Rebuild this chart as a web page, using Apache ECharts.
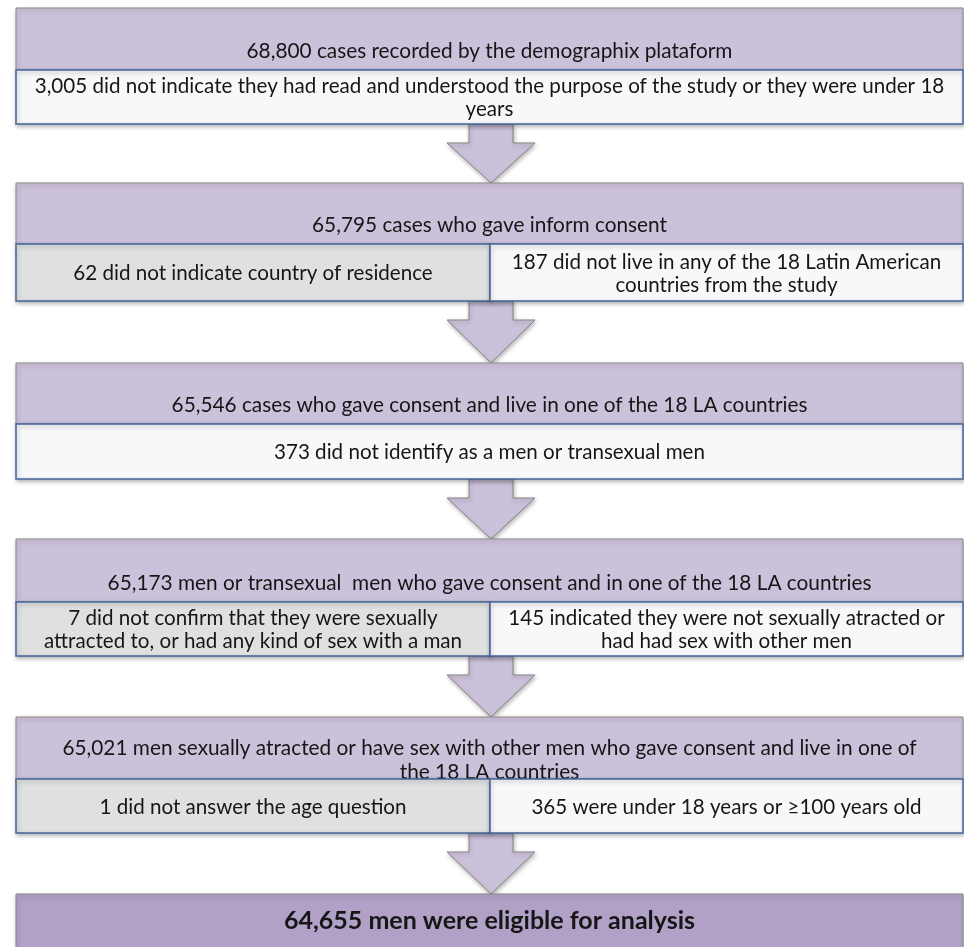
<!DOCTYPE html>
<html>
<head>
<meta charset="utf-8">
<script src="https://cdn.jsdelivr.net/npm/echarts@6/dist/echarts.min.js"></script>
<style>
html,body{margin:0;padding:0;background:#ffffff;}
#chart{width:964px;height:947px;}
</style>
</head>
<body>
<div id="chart"></div>
<script>
// ---- Data ----
const stageCounts = [68800, 65795, 65546, 65173, 65021, 64655];
const stageTexts = [
  'cases recorded by the demographix plataform',
  'cases who gave inform consent',
  'cases who gave consent and live in one of the 18 LA countries',
  'men or transexual  men who gave consent and in one of the 18 LA countries',
  'men sexually atracted or have sex with other men who gave consent and live in one of\nthe 18 LA countries',
  'men were eligible for analysis'
];
const exclusionCounts = [[3005], [62, 187], [373], [7, 145], [1, 365]];
const exclusionTexts = [
  ['did not indicate they had read and understood the purpose of the study or they were under 18\nyears'],
  ['did not indicate country of residence', 'did not live in any of the 18 Latin American\ncountries from the study'],
  ['did not identify as a men or transexual men'],
  ['did not confirm that they were sexually\nattracted to, or had any kind of sex with a man', 'indicated they were not sexually atracted or\nhad had sex with other men'],
  ['did not answer the age question', 'were under 18 years or \u2265100 years old']
];

// ---- Layout (chart units = pixels) ----
const W = 964, H = 947;
const boxLeft = 16, boxRight = 963, splitX = 490;
const rows = [
  {top: 8,   mid: 70,  bottom: 124},
  {top: 183, mid: 244, bottom: 301},
  {top: 363, mid: 424, bottom: 479},
  {top: 539, mid: 602, bottom: 656},
  {top: 717, mid: 779, bottom: 833},
  {top: 894, mid: 947, bottom: 947}
];
const arrowShaft = [469, 513], arrowHead = [447, 535], shaftLen = 19;

const fmt = n => n.toLocaleString('en-US');
const FONT = 'Lato, "Noto Sans", sans-serif';
const C = {
  header: '#ccc1da', final: '#b1a1c7', headerBorder: '#8a8a8a',
  grey: '#e0e0e0', white: '#f8f8fb', subBorder: '#41679a', text: '#161616',
  arrow: '#ccc1da', arrowBorder: '#858585'
};
const shadow = {shadowBlur: 4, shadowOffsetX: 1, shadowOffsetY: 2, shadowColor: 'rgba(0,0,0,0.28)'};

function rectShape(api, x0, y0, x1, y1) {
  const p0 = api.coord([x0, y0]);
  const p1 = api.coord([x1, y1]);
  return {x: Math.min(p0[0], p1[0]), y: Math.min(p0[1], p1[1]),
          width: Math.abs(p1[0] - p0[0]), height: Math.abs(p1[1] - p0[1])};
}

function renderItem(params, api) {
  const i = api.value(0);
  const r = rows[i];
  const children = [];
  const isFinal = i === stageCounts.length - 1;
  const fullText = fmt(stageCounts[i]) + ' ' + stageTexts[i];

  // arrow coming from the previous row
  if (i > 0) {
    const prev = rows[i - 1];
    const y0 = prev.bottom, y1 = prev.bottom + shaftLen, y2 = r.top;
    const pts = [
      [arrowShaft[0], y0], [arrowShaft[1], y0], [arrowShaft[1], y1], [arrowHead[1], y1],
      [(arrowHead[0] + arrowHead[1]) / 2, y2], [arrowHead[0], y1], [arrowShaft[0], y1]
    ].map(p => api.coord(p));
    children.push({type: 'polygon', shape: {points: pts},
      style: Object.assign({fill: C.arrow, stroke: C.arrowBorder, lineWidth: 1}, shadow), z2: 1});
  }

  // header box
  children.push({type: 'rect', shape: rectShape(api, boxLeft, r.top, boxRight, isFinal ? r.bottom + 5 : r.mid),
    style: Object.assign({fill: isFinal ? C.final : C.header, stroke: C.headerBorder, lineWidth: 1}, shadow), z2: 2});

  if (isFinal) {
    const c = api.coord([(boxLeft + boxRight) / 2, r.top + 27]);
    children.push({type: 'text', z2: 5,
      style: {text: fullText, x: c[0], y: c[1], align: 'center', verticalAlign: 'middle',
        fontFamily: FONT, fontWeight: 'bold', fontSize: 25, fill: C.text}});
  } else {
    const c = api.coord([(boxLeft + boxRight) / 2, r.mid - 19]);
    children.push({type: 'text', z2: 3,
      style: {text: fullText, x: c[0], y: c[1], align: 'center', verticalAlign: 'middle',
        fontFamily: FONT, fontSize: 20.8, lineHeight: 24, fill: C.text}});

    // exclusion boxes
    const exC = exclusionCounts[i], exT = exclusionTexts[i];
    const cells = exC.length === 1 ? [[boxLeft, boxRight]] : [[boxLeft, splitX], [splitX, boxRight]];
    cells.forEach((cell, k) => {
      const fill = (exC.length === 2 && k === 0) ? C.grey : C.white;
      children.push({type: 'rect', shape: rectShape(api, cell[0], r.mid, cell[1], r.bottom),
        style: Object.assign({fill: fill, stroke: C.subBorder, lineWidth: 1.5}, shadow), z2: 4});
      const t = fmt(exC[k]) + ' ' + exT[k];
      const tc = api.coord([(cell[0] + cell[1]) / 2, (r.mid + r.bottom) / 2 + 1]);
      children.push({type: 'text', z2: 5,
        style: {text: t, x: tc[0], y: tc[1], align: 'center', verticalAlign: 'middle',
          fontFamily: FONT, fontSize: 20.6, lineHeight: 23, fill: C.text}});
    });
  }
  return {type: 'group', children: children};
}

const chart = echarts.init(document.getElementById('chart'), null, {renderer: 'canvas'});
chart.setOption({
  backgroundColor: '#ffffff',
  animation: false,
  grid: {left: 0, right: 0, top: 0, bottom: 0},
  xAxis: {type: 'value', min: 0, max: W, show: false},
  yAxis: {type: 'value', min: 0, max: H, inverse: true, show: false},
  series: [{
    type: 'custom',
    renderItem: renderItem,
    clip: false,
    data: stageCounts.map((v, i) => [i, v]),
    encode: {x: -1, y: -1}
  }]
});
</script>
</body>
</html>
